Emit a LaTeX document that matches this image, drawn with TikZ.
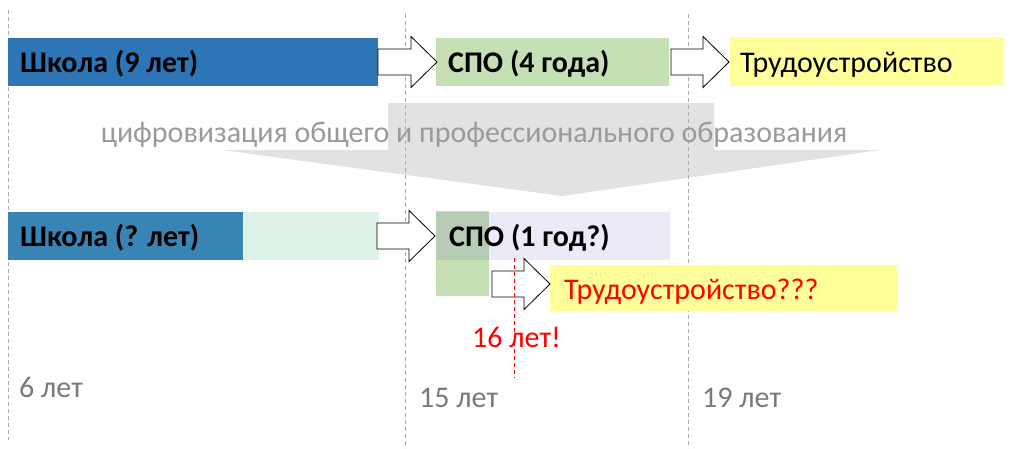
\documentclass[tikz,border=0pt]{standalone}
\usepackage{fontspec}
\setmainfont{Carlito}
\definecolor{schoolA}{HTML}{2E75B6}
\definecolor{schoolB}{HTML}{3885B5}
\definecolor{mint}{HTML}{DEF2E8}
\definecolor{spogreen}{HTML}{C5E0B4}
\definecolor{lav}{HTML}{EBEBF7}
\definecolor{overlap}{HTML}{B6CCB4}
\definecolor{yel}{HTML}{FFFF99}
\definecolor{bigarrow}{HTML}{E2E2E2}
\definecolor{guide}{HTML}{ABABAB}
\definecolor{graytext}{HTML}{9A9A9A}
\definecolor{agetext}{HTML}{7A7A7A}
\definecolor{redtext}{HTML}{FF0000}
\tikzset{
  guideline/.style={draw=guide, line width=0.9pt, dash pattern=on 4pt off 3pt},
  blockarrow/.style={draw=black, fill=white, line width=0.8pt, line join=miter},
  lbl/.style={anchor=base west, inner sep=0pt, font=\fontsize{30}{34}\selectfont},
  blbl/.style={lbl, font=\fontsize{30}{34}\selectfont\bfseries},
  agelbl/.style={lbl, text=agetext},
}
% #1 shaft left x, #2 centre y, #3 tip x
\newcommand{\blockarr}[3]{%
  \path[blockarrow] (#1,#2-13) -- (#3-26,#2-13) -- (#3-26,#2-25.5) -- (#3,#2)
    -- (#3-26,#2+25.5) -- (#3-26,#2+13) -- (#1,#2+13) -- cycle;}
\begin{document}
\begin{tikzpicture}[x=1pt,y=-1pt]
\useasboundingbox (0,0) rectangle (1014,448);
% big grey arrow
\fill[bigarrow] (388,103) -- (714,103) -- (714,150) -- (880,150) -- (562,196)
  -- (222,150) -- (388,150) -- cycle;
% guides
\draw[guideline] (8,10) -- (8,440);
\draw[guideline] (405,14) -- (405,448);
\draw[guideline] (688,14) -- (688,448);
% row 1
\fill[schoolA] (8,38) rectangle (378,86);
\node[blbl] (school1) at (20,72) {Школа (9 лет)};
\fill[spogreen] (436,38) rectangle (669,86);
\node[blbl] (spo1) at (448,72) {СПО (4 года)};
\fill[yel] (730,37) rectangle (1004,86);
\node[lbl] (job1) at (740,72) {Трудоустройство};
\blockarr{378}{62}{437}
\blockarr{671}{62}{729}
% digitalisation label
\node[anchor=base, inner sep=0pt, font=\fontsize{30}{34}\selectfont, text=graytext] (digi) at (474,142)
  {цифровизация общего и профессионального образования};
% row 2
\fill[schoolB] (8,212) rectangle (243,260);
\fill[mint] (243,212) rectangle (379,260);
\node[blbl] (school2) at (20,246) {Школа (? лет)};
\fill[spogreen] (436,211) rectangle (489,296);
\fill[lav] (489,212) rectangle (670,260);
\fill[overlap] (436,212) rectangle (489,260);
\node[blbl] (spo2) at (449,246) {СПО (1 год?)};
\blockarr{377}{236}{435}
\fill[yel] (550,265) rectangle (898,311);
\node[lbl, text=redtext] (job2) at (564,299) {Трудоустройство???};
\blockarr{492}{284}{550}
\draw[redtext, line width=0.8pt, dash pattern=on 4pt off 3pt] (514,258) -- (514,378);
\node[lbl, text=redtext] (sixteen) at (472,347) {16 лет!};
% ages
\node[agelbl] (age6) at (19,397) {6 лет};
\node[agelbl] (age15) at (419,407) {15 лет};
\node[agelbl] (age19) at (702,407) {19 лет};
\end{tikzpicture}
\end{document}
